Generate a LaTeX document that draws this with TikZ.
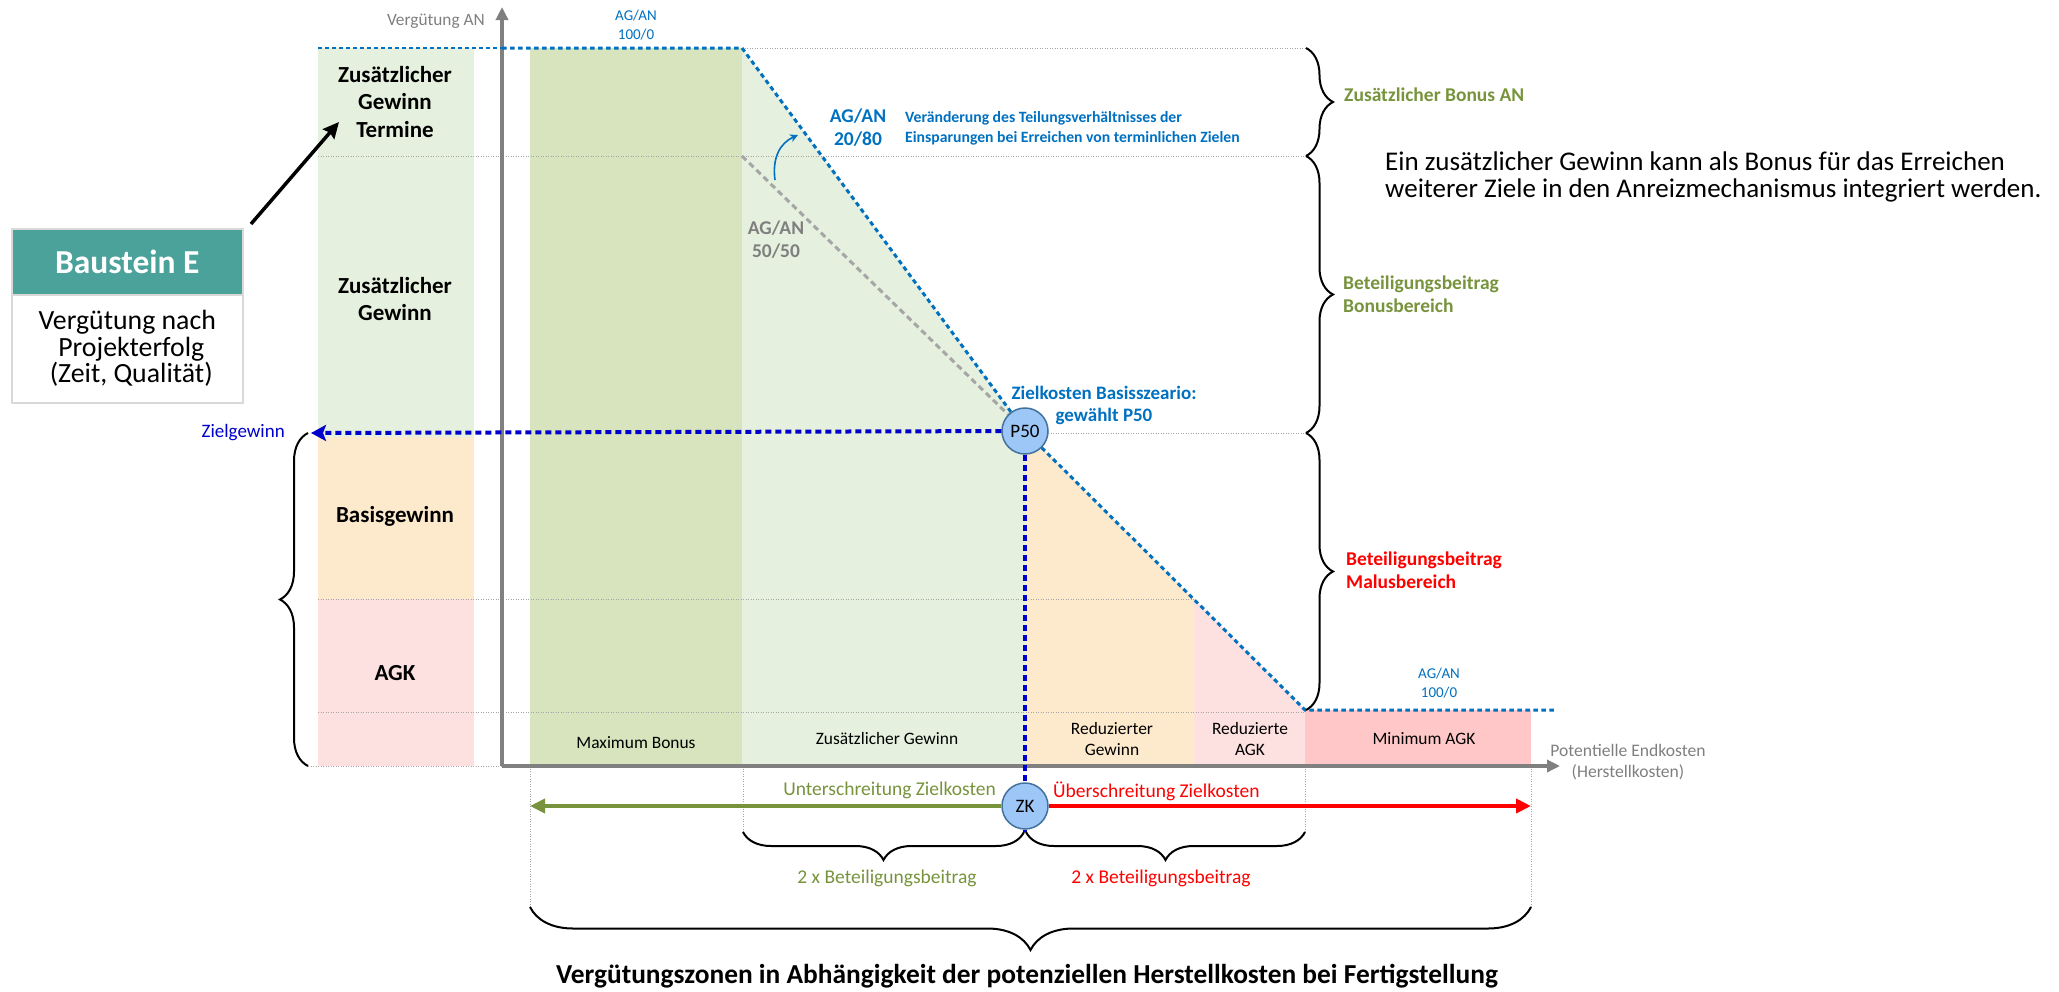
\documentclass[tikz,border=0pt]{standalone}
\usepackage{fontspec}
\setmainfont{Carlito}
\usetikzlibrary{arrows.meta,decorations.pathreplacing,calc}

\definecolor{fillLGreen}{HTML}{E5F0DE}
\definecolor{fillDGreen}{HTML}{D7E4BD}
\definecolor{fillOrange}{HTML}{FDEACD}
\definecolor{fillPink}{HTML}{FDE0E0}
\definecolor{fillRed}{HTML}{FFC7C7}
\definecolor{axisGray}{HTML}{808080}
\definecolor{txtGray}{HTML}{7F7F7F}
\definecolor{dashGray}{HTML}{A6A6A6}
\definecolor{msBlue}{HTML}{0070C0}
\definecolor{deepBlue}{HTML}{0000CC}
\definecolor{oliveTxt}{HTML}{77933C}
\definecolor{hdrTeal}{HTML}{4AA29A}
\definecolor{circFill}{HTML}{9DC7F7}
\definecolor{circLine}{HTML}{41719C}

\newcommand\fsz[2]{\fontsize{#1pt}{#2pt}\selectfont}

\pgfdeclarelayer{bg}
\pgfsetlayers{bg,main}

\tikzset{
  txt/.style={inner sep=0pt, align=center},
  colhead/.style={txt, font=\fsz{23}{27.5}\bfseries},
  zone/.style={txt, font=\fsz{17.4}{21}},
  sideNote/.style={txt, align=left, anchor=west, font=\fsz{19.5}{23}\bfseries},
  ratio/.style={txt, font=\fsz{15}{19}, text=msBlue},
  bigratio/.style={txt, font=\fsz{19.5}{23}\bfseries},
  circ/.style={circle, minimum size=46pt, inner sep=0pt, fill=circFill,
    draw=circLine, line width=1.5pt, font=\fsz{19}{20}},
  gridln/.style={draw=black!35, line width=1pt, dash pattern=on 1pt off 1.5pt},
  bdot/.style={draw=msBlue, line width=3pt, dash pattern=on 4.5pt off 3.5pt},
  deepdash/.style={draw=deepBlue, line width=4pt, dash pattern=on 6pt off 4pt},
  axisln/.style={draw=axisGray, line width=3.5pt,
    -{Triangle[length=13pt,width=12pt]}},
  brc/.style={draw=black, line width=2pt, decorate,
    decoration={brace, amplitude=#1}},
}

\begin{document}
\begin{tikzpicture}[x=1pt,y=-1pt]
\useasboundingbox (0,0) rectangle (2059,991);

% ---------- key points of the chart ----------
\coordinate (origin) at (502,766);
\coordinate (ytip) at (502,7);
\coordinate (xtip) at (1560,766);
\coordinate (capL) at (318,48);
\coordinate (capAx) at (502,48);
\coordinate (capR) at (742,48);
\coordinate (fiftyTop) at (742,156);
\coordinate (kink) at (1305,710);
\coordinate (floorEnd) at (1557,710);
\coordinate (zielEnd) at (311,433);
\coordinate (zkLow) at (1025,832);
\coordinate (greenEnd) at (530,806);
\coordinate (redEnd) at (1531,806);

% ---------- coloured zones and guide lines ----------
\begin{pgfonlayer}{bg}
  % left reference column
  \fill[fillLGreen] (318,48) rectangle (474,437);
  \fill[fillOrange] (318,437) rectangle (474,599);
  \fill[fillPink] (318,599) rectangle (474,766);
  % zones under the curve
  \fill[fillDGreen] (530,48) rectangle (742,766);
  \fill[fillLGreen] (742,48) -- (1025,431) -- (1025,766) -- (742,766) -- cycle;
  \fill[fillOrange] (1025,431) -- (1194,599) -- (1194,766) -- (1025,766) -- cycle;
  \fill[fillPink] (1194,599) -- (1305,710) -- (1305,766) -- (1194,766) -- cycle;
  \fill[fillRed] (1305,710) rectangle (1531,766);
  % horizontal guide lines
  \draw[gridln] (742,48) -- (1307,48);
  \draw[gridln] (318,156) -- (1307,156);
  \draw[gridln] (1048,433) -- (1307,433);
  \draw[gridln] (318,599) -- (1194,599);
  \draw[gridln] (318,712) -- (1305,712);
  \draw[gridln] (308,766) -- (502,766);
  % vertical guide lines below the axis
  \draw[gridln] (530,766) -- (530,907);
  \draw[gridln] (743,766) -- (743,832);
  \draw[gridln] (1305,766) -- (1305,832);
  \draw[gridln] (1531,766) -- (1531,907);
\end{pgfonlayer}

% ---------- axes ----------
\draw[axisln] (origin) -- (ytip);
\draw[axisln] (origin) -- (xtip);
\node[txt, anchor=east, font=\fsz{17.3}{20}, text=txtGray] (yLabel) at (485,21) {Vergütung AN};
\node[txt, font=\fsz{17.6}{21}, text=txtGray] (xLabel) at (1628,762) {Potentielle Endkosten\\(Herstellkosten)};

% ---------- circles ----------
\node[circ] (p50) at (1025,431) {P50};
\node[circ] (zk) at (1025,806) {ZK};

% ---------- remuneration curve ----------
\draw[msBlue, line width=1.5pt, dash pattern=on 4pt off 3pt] (capL) -- (capAx);
\draw[bdot] (capAx) -- (capR) -- (p50);
\draw[bdot] (p50) -- (kink) -- (floorEnd);
\draw[draw=dashGray, line width=3pt, dash pattern=on 6pt off 4pt] (fiftyTop) -- (p50);

% target profit and target cost
\draw[deepdash, -{Stealth[length=15pt,width=16pt,inset=3pt]}] (p50) -- (zielEnd);
\draw[deepdash] (p50) -- (zk);
\draw[deepdash] (zk) -- (zkLow);
\node[txt, anchor=east, font=\fsz{19}{20}, text=deepBlue] (zielLbl) at (285,433) {Zielgewinn};

% under / over target cost
\draw[oliveTxt, line width=4pt, -{Triangle[length=15pt,width=14pt]}] (zk) -- (greenEnd);
\draw[red, line width=4pt, -{Triangle[length=15pt,width=14pt]}] (zk) -- (redEnd);
\node[txt, anchor=east, font=\fsz{19.5}{22}, text=oliveTxt] (unterLbl) at (996,790) {Unterschreitung Zielkosten};
\node[txt, anchor=west, font=\fsz{19.5}{22}, text=red] (ueberLbl) at (1053,791) {Überschreitung Zielkosten};

% ---------- labels of the left column ----------
\node[colhead] (colTermine) at (395,102) {Zusätzlicher\\Gewinn\\Termine};
\node[colhead] (colZusatz) at (395,299) {Zusätzlicher\\Gewinn};
\node[colhead] (colBasis) at (395,516) {Basisgewinn};
\node[colhead] (colAgk) at (395,673) {AGK};

% ---------- zone labels ----------
\node[zone] (zMax) at (636,743) {Maximum Bonus};
\node[zone] (zZus) at (887,739) {Zusätzlicher Gewinn};
\node[zone] (zRedG) at (1112,739) {Reduzierter\\Gewinn};
\node[zone] (zRedA) at (1250,739) {Reduzierte\\AGK};
\node[zone] (zMin) at (1424,739) {Minimum AGK};

% ---------- sharing ratios ----------
\node[ratio] (r100a) at (636,25) {AG/AN\\100/0};
\node[ratio] (r100b) at (1439,683) {AG/AN\\100/0};
\node[bigratio, text=msBlue] (r2080) at (858,128) {AG/AN\\20/80};
\node[bigratio, text=txtGray] (r5050) at (776,240) {AG/AN\\50/50};
\node[txt, anchor=west, align=left, font=\fsz{15.7}{20}\bfseries, text=msBlue] (shiftNote) at (905,128)
  {Veränderung des Teilungsverhältnisses der\\Einsparungen bei Erreichen von terminlichen Zielen};
\coordinate (shiftFrom) at (775,180);
\coordinate (shiftTo) at (798,135);
\draw[msBlue, line width=1.6pt, -{Stealth[length=8pt,width=8pt]}]
  (shiftFrom) .. controls (772,158) and (780,143) .. (shiftTo);
\node[txt, font=\fsz{19}{22}\bfseries, text=msBlue] (zkNote) at (1104,405) {Zielkosten Basisszeario:\\gewählt P50};

% ---------- braces on the right ----------
\draw[brc=27] (1306,48) -- (1306,156);
\draw[brc=27] (1306,156) -- (1306,433);
\draw[brc=27] (1306,433) -- (1306,710);
\node[sideNote, text=oliveTxt] (bonusAN) at (1344,95) {Zusätzlicher Bonus AN};
\node[sideNote, text=oliveTxt] (bonusBer) at (1343,294) {Beteiligungsbeitrag\\Bonusbereich};
\node[sideNote, text=red] (malusBer) at (1346,570) {Beteiligungsbeitrag\\Malusbereich};
\node[txt, anchor=west, align=left, font=\fsz{27}{27}] (infoText) at (1385,177)
  {Ein zusätzlicher Gewinn kann als Bonus für das Erreichen\\weiterer Ziele in den Anreizmechanismus integriert werden.};

% ---------- brace on the left ----------
\draw[brc=28] (308,766) -- (308,433);

% ---------- braces below the axis ----------
\draw[brc=28] (1024,832) -- (743,832);
\draw[brc=28] (1305,832) -- (1026,832);
\draw[brc=43] (1531,907) -- (530,907);
\node[txt, font=\fsz{19.5}{22}, text=oliveTxt] (twoBonus) at (887,878) {2 x Beteiligungsbeitrag};
\node[txt, font=\fsz{19.5}{22}, text=red] (twoMalus) at (1161,878) {2 x Beteiligungsbeitrag};
\node[txt, font=\fsz{27.4}{30}\bfseries] (title) at (1027,976)
  {Vergütungszonen in Abhängigkeit der potenziellen Herstellkosten bei Fertigstellung};

% ---------- building block E ----------
\node[anchor=north west, minimum width=231pt, minimum height=66pt, inner sep=0pt,
  fill=hdrTeal, draw=black!15, line width=1.5pt, text=white, font=\fsz{33.5}{36}\bfseries]
  (bHead) at (11,228) {Baustein E};
\node[anchor=north west, minimum width=231pt, minimum height=108pt, inner sep=0pt,
  fill=white, draw=black!15, line width=1.5pt, align=center, font=\fsz{27.8}{26.5}]
  (bBody) at (11,294) {Vergütung nach\\\hspace*{8pt}Projekterfolg\\\hspace*{8pt}(Zeit, Qualität)};
\coordinate (bArrowFrom) at (251,224);
\coordinate (bArrowTo) at (339,122);
\draw[black, line width=3.5pt, -{Stealth[length=16pt,width=15pt,inset=2pt]}] (bArrowFrom) -- (bArrowTo);
\end{tikzpicture}
\end{document}
